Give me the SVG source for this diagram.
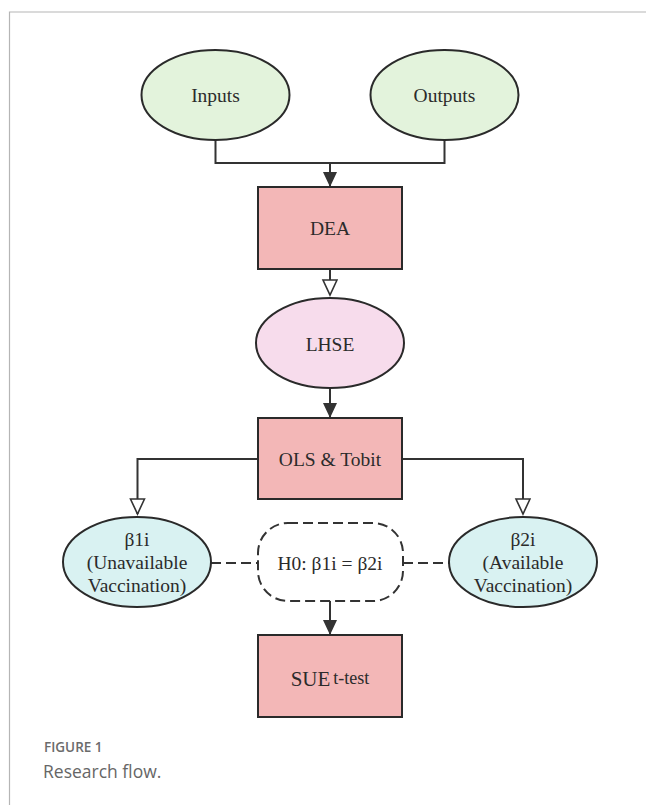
<svg xmlns="http://www.w3.org/2000/svg" width="646" height="805" viewBox="0 0 646 805">
<style>
.lbl{font-family:"Liberation Serif","Times New Roman",serif;font-size:19.5px;fill:#2b2b2b;text-anchor:middle}
.node{stroke:#2a2a2a;stroke-width:2}
.green{fill:#e3f3dc}
.red{fill:#f3b7b7}
.pink{fill:#f7dcec}
.cyan{fill:#d9f2f2}
.conn{fill:none;stroke:#333;stroke-width:2}
.dash{fill:none;stroke:#333;stroke-width:2;stroke-dasharray:10 5}
.cap1{font-family:"Open Sans","Liberation Sans",sans-serif;font-size:13.5px;font-weight:600;fill:#6b6b6b}
.cap2{font-family:"Open Sans","Liberation Sans",sans-serif;font-size:17.5px;fill:#666}
</style>
<defs>
<marker id="fill" markerUnits="userSpaceOnUse" markerWidth="16" markerHeight="16" refX="15" refY="7" orient="auto">
<path d="M0,0 L15,7 L0,14 z" fill="#333"/>
</marker>
<marker id="open" markerUnits="userSpaceOnUse" markerWidth="18" markerHeight="18" refX="16" refY="8" orient="auto">
<path d="M1,1 L16,8 L1,15 z" fill="#fff" stroke="#333" stroke-width="1.6"/>
</marker>
</defs>
<rect width="646" height="805" fill="#fff"/>
<g id="frame" fill="none" stroke="#b5b5b5" stroke-width="1.2">
<path d="M9.5,805 V12 H646"/>
</g>
<g id="connectors">
<path class="conn" d="M215.5,140 V163 H444.5 V140"/>
<path class="conn" d="M330,163 V187" marker-end="url(#fill)"/>
<path class="conn" d="M330,269 V295" marker-end="url(#open)"/>
<path class="conn" d="M330,388 V418" marker-end="url(#fill)"/>
<path class="conn" d="M258,459 H137.5 V514" marker-end="url(#open)"/>
<path class="conn" d="M402,459 H523 V514" marker-end="url(#open)"/>
<path class="dash" d="M211,563 H258"/>
<path class="dash" d="M403,563 H449"/>
<path class="conn" d="M330,601 V635" marker-end="url(#fill)"/>
</g>
<g id="inputs">
<ellipse class="node green" cx="215.5" cy="95" rx="74" ry="45"/>
<text class="lbl" x="215.5" y="102">Inputs</text>
</g>
<g id="outputs">
<ellipse class="node green" cx="444.5" cy="95" rx="74" ry="45"/>
<text class="lbl" x="444.5" y="102">Outputs</text>
</g>
<g id="dea">
<rect class="node red" x="258" y="187" width="144" height="82"/>
<text class="lbl" x="330" y="235">DEA</text>
</g>
<g id="lhse">
<ellipse class="node pink" cx="330" cy="343" rx="74" ry="45"/>
<text class="lbl" x="330" y="351">LHSE</text>
</g>
<g id="ols">
<rect class="node red" x="258" y="418" width="144" height="81"/>
<text class="lbl" x="330" y="466">OLS &amp; Tobit</text>
</g>
<g id="beta1">
<ellipse class="node cyan" cx="137" cy="562" rx="74" ry="45"/>
<text class="lbl" x="137" y="546">β1i</text>
<text class="lbl" x="137" y="569">(Unavailable</text>
<text class="lbl" x="137" y="592">Vaccination)</text>
</g>
<g id="beta2">
<ellipse class="node cyan" cx="523" cy="562" rx="74" ry="45"/>
<text class="lbl" x="523" y="546">β2i</text>
<text class="lbl" x="523" y="569">(Available</text>
<text class="lbl" x="523" y="592">Vaccination)</text>
</g>
<g id="h0">
<rect class="dash" x="258" y="523" width="145" height="78" rx="30" ry="30"/>
<text class="lbl" x="330" y="570">H0: β1i = β2i</text>
</g>
<g id="sue">
<rect class="node red" x="258" y="635" width="144" height="82"/>
<text class="lbl" x="330" y="686"><tspan font-size="21">SUE</tspan><tspan font-size="18" dx="3" dy="-2">t-test</tspan></text>
</g>
<g id="caption">
<text class="cap1" x="44" y="752">FIGURE 1</text>
<text class="cap2" x="43" y="778">Research flow.</text>
</g>
</svg>
